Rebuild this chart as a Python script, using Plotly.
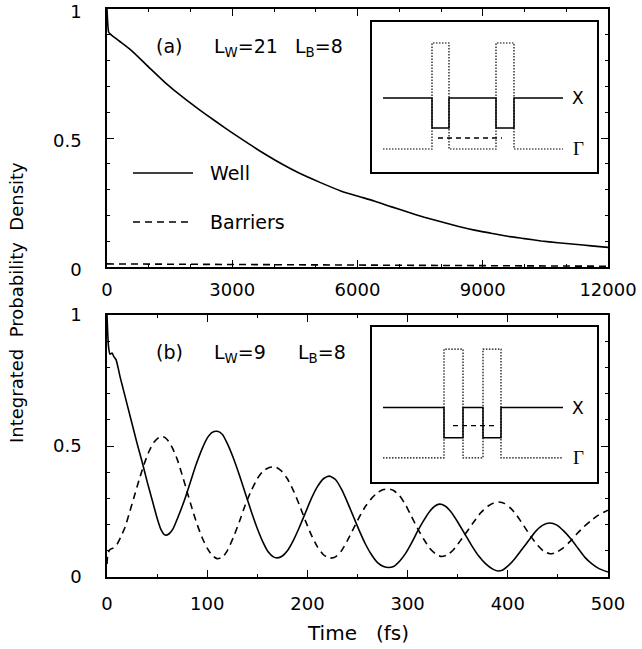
import plotly.graph_objects as go

W, H = 642, 649

# ---------------- data ----------------
# panel (a): Lw = 21, Lb = 8, time in fs
a_time = [0, 15, 40, 100, 300, 600, 1000, 1400, 1800, 2200, 2600, 3000, 3400, 3800, 4200, 4600, 5100, 5600,
          6000, 6400, 6800, 7200, 7600, 8000, 8400, 8800, 9200, 9600, 10000, 10400, 10800, 11200, 11600, 12000]
a_well = [1.0, 0.95, 0.91, 0.9, 0.875, 0.837, 0.775, 0.714, 0.66, 0.611, 0.565, 0.52, 0.477, 0.436, 0.398, 0.364,
          0.328, 0.295, 0.275, 0.256, 0.234, 0.213, 0.193, 0.175, 0.158, 0.143, 0.131, 0.119, 0.11, 0.101, 0.094,
          0.088, 0.082, 0.076]
a_barr_time = [0, 3000, 6000, 9000, 12000]
a_barr = [0.012, 0.010, 0.007, 0.005, 0.003]

# panel (b): Lw = 9, Lb = 8
b_well_time = [0, 1.5, 3, 5, 7, 9, 11, 13, 16, 20, 25, 30, 35, 40, 45, 50, 54, 58, 62, 66, 71, 77, 83, 89, 95, 100,
               105, 110, 115, 120, 126, 132, 138, 144, 150, 156, 161, 166, 170, 175, 180, 186, 192, 198, 204, 210,
               216, 222, 228, 234, 240, 246, 252, 258, 264, 270, 276, 281, 286, 292, 298, 304, 310, 316, 322, 327,
               332, 337, 343, 350, 357, 364, 371, 378, 385, 390, 395, 401, 407, 414, 421, 428, 435, 442, 449, 456,
               463, 470, 477, 484, 491, 500]
b_well = [1.0, 0.88, 0.85, 0.855, 0.84, 0.83, 0.80, 0.765, 0.72, 0.66, 0.585, 0.51, 0.44, 0.365, 0.295, 0.225, 0.18,
          0.16, 0.165, 0.185, 0.23, 0.29, 0.36, 0.43, 0.49, 0.53, 0.552, 0.556, 0.545, 0.51, 0.455, 0.39, 0.32, 0.25,
          0.185, 0.13, 0.095, 0.077, 0.073, 0.08, 0.1, 0.14, 0.19, 0.245, 0.3, 0.345, 0.375, 0.385, 0.372, 0.335,
          0.285, 0.23, 0.175, 0.125, 0.085, 0.055, 0.04, 0.036, 0.04, 0.06, 0.09, 0.13, 0.175, 0.215, 0.25, 0.27,
          0.278, 0.272, 0.25, 0.21, 0.165, 0.12, 0.08, 0.05, 0.03, 0.023, 0.027, 0.045, 0.07, 0.105, 0.14, 0.175,
          0.198, 0.206, 0.198, 0.175, 0.145, 0.11, 0.075, 0.05, 0.032, 0.019]
b_barr_time = [0, 1, 3, 6, 10, 14, 18, 22, 27, 32, 37, 42, 47, 52, 56, 60, 65, 70, 75, 80, 85, 90, 95, 100, 105, 110,
               115, 120, 126, 132, 138, 144, 150, 156, 162, 168, 174, 180, 186, 192, 198, 204, 210, 216, 222, 228,
               234, 240, 246, 252, 258, 264, 270, 276, 281, 286, 292, 298, 304, 310, 316, 322, 328, 334, 340, 346,
               352, 359, 366, 373, 380, 386, 391, 397, 403, 409, 416, 423, 430, 436, 442, 448, 455, 462, 469, 476,
               483, 490, 500]
b_barr = [0.05, 0.09, 0.105, 0.11, 0.125, 0.155, 0.19, 0.24, 0.305, 0.37, 0.43, 0.48, 0.515, 0.533, 0.535, 0.525,
          0.495, 0.45, 0.39, 0.325, 0.26, 0.2, 0.15, 0.11, 0.082, 0.07, 0.075, 0.1, 0.15, 0.21, 0.275, 0.33, 0.375,
          0.405, 0.418, 0.42, 0.405, 0.375, 0.33, 0.275, 0.215, 0.16, 0.115, 0.085, 0.072, 0.077, 0.1, 0.14, 0.185,
          0.23, 0.27, 0.3, 0.322, 0.334, 0.336, 0.33, 0.31, 0.275, 0.23, 0.185, 0.145, 0.11, 0.088, 0.078, 0.085,
          0.105, 0.135, 0.172, 0.21, 0.245, 0.27, 0.283, 0.286, 0.28, 0.262, 0.235, 0.195, 0.155, 0.12, 0.098, 0.089,
          0.093, 0.11, 0.135, 0.165, 0.192, 0.215, 0.235, 0.255]

# insets: band-edge schematics (arbitrary units)
ins_a_pos = [11, 60, 60, 77, 77, 124, 124, 142, 142, 191]
ins_a_X = [74, 74, 44, 44, 74, 74, 44, 44, 74, 74]
ins_a_G = [23, 23, 129, 129, 23, 23, 129, 129, 23, 23]
ins_a_lvl_pos = [66, 130]
ins_a_lvl = [34, 34]

ins_b_pos = [11, 72, 72, 91, 91, 111, 111, 129, 129, 191]
ins_b_X = [74, 74, 44, 44, 74, 74, 44, 44, 74, 74]
ins_b_G = [24, 24, 132, 132, 24, 24, 132, 132, 24, 24]
ins_b_lvl_pos = [81, 122]
ins_b_lvl = [56, 56]

a_xticks = [0, 3000, 6000, 9000, 12000]
a_xticktext = ["0", "3000", "6000", "9000", "12000"]
b_xticks = [0, 100, 200, 300, 400, 500]
b_xticktext = ["0", "100", "200", "300", "400", "500"]
y_ticks = [0, 0.5, 1]
y_ticktext = ["0", "0.5", "1"]

# ---------------- layout helpers ----------------
def px_x(x):
    return x / W

def px_y(y):
    return 1 - y / H

FONT = "DejaVu Sans"
BLACK = "black"

fig = go.Figure()

lw = 1.6
fig.add_trace(go.Scatter(x=a_time, y=a_well, mode="lines", line=dict(color=BLACK, width=lw, shape="spline", smoothing=0.5),
                         xaxis="x", yaxis="y", showlegend=False))
fig.add_trace(go.Scatter(x=a_barr_time, y=a_barr, mode="lines", line=dict(color=BLACK, width=lw, dash="7px,5px"),
                         xaxis="x", yaxis="y", showlegend=False))
fig.add_trace(go.Scatter(x=b_well_time, y=b_well, mode="lines", line=dict(color=BLACK, width=lw, shape="spline", smoothing=0.6),
                         xaxis="x2", yaxis="y2", showlegend=False))
fig.add_trace(go.Scatter(x=b_barr_time, y=b_barr, mode="lines", line=dict(color=BLACK, width=lw, shape="spline", smoothing=0.6, dash="7px,5px"),
                         xaxis="x2", yaxis="y2", showlegend=False))

# insets
for xa, ya, pos, X, G, lp, lv in [("x3", "y3", ins_a_pos, ins_a_X, ins_a_G, ins_a_lvl_pos, ins_a_lvl),
                                  ("x4", "y4", ins_b_pos, ins_b_X, ins_b_G, ins_b_lvl_pos, ins_b_lvl)]:
    fig.add_trace(go.Scatter(x=pos, y=G, mode="lines", line=dict(color=BLACK, width=1.2, dash="1.5px,1.5px"),
                             xaxis=xa, yaxis=ya, showlegend=False))
    fig.add_trace(go.Scatter(x=pos, y=X, mode="lines", line=dict(color=BLACK, width=1.5),
                             xaxis=xa, yaxis=ya, showlegend=False))
    fig.add_trace(go.Scatter(x=lp, y=lv, mode="lines", line=dict(color=BLACK, width=1.3, dash="5px,4px"),
                             xaxis=xa, yaxis=ya, showlegend=False))

xdom = [px_x(107), px_x(608)]
top_dom = [px_y(267), px_y(9)]
bot_dom = [px_y(577), px_y(315)]
ins_xdom = [px_x(372), px_x(597)]
ins_a_dom = [px_y(172), px_y(22)]
ins_b_dom = [px_y(482), px_y(327)]

tickfont = dict(family=FONT, size=18, color=BLACK)

def main_axis(**kw):
    d = dict(showline=True, linecolor=BLACK, linewidth=1.5, mirror="ticks", ticks="inside", ticklen=7,
             tickwidth=1.3, tickcolor=BLACK, showgrid=False, zeroline=False, tickfont=tickfont, automargin=False,
             ticklabeloverflow="allow")
    d.update(kw)
    return d

def inset_axis(**kw):
    d = dict(showline=True, linecolor=BLACK, linewidth=1.5, mirror=True, ticks="", showticklabels=False,
             showgrid=False, zeroline=False, fixedrange=True, automargin=False)
    d.update(kw)
    return d

minor_style = dict(ticks="inside", ticklen=3.5, tickcolor=BLACK, tickwidth=1.1)

fig.update_layout(
    width=W, height=H,
    margin=dict(l=0, r=0, t=0, b=0, pad=0, autoexpand=False),
    paper_bgcolor="white", plot_bgcolor="white",
    xaxis=main_axis(domain=xdom, anchor="y", range=[0, 12000], tickvals=a_xticks, ticktext=a_xticktext,
                    minor=dict(dtick=1000, **minor_style), ticklabelstandoff=6),
    yaxis=main_axis(domain=top_dom, anchor="x", range=[0, 1], tickvals=y_ticks, ticktext=y_ticktext,
                    minor=dict(dtick=0.1, **minor_style), ticklabelstandoff=20, ticklabelshift=3),
    xaxis2=main_axis(domain=xdom, anchor="y2", range=[0, 500], tickvals=b_xticks, ticktext=b_xticktext,
                     minor=dict(dtick=50, **minor_style), ticklabelstandoff=10),
    yaxis2=main_axis(domain=bot_dom, anchor="x2", range=[0, 1], tickvals=y_ticks, ticktext=y_ticktext,
                     minor=dict(dtick=0.1, **minor_style), ticklabelstandoff=20),
    xaxis3=inset_axis(domain=ins_xdom, anchor="y3", range=[0, 225]),
    yaxis3=inset_axis(domain=ins_a_dom, anchor="x3", range=[0, 150]),
    xaxis4=inset_axis(domain=ins_xdom, anchor="y4", range=[0, 225]),
    yaxis4=inset_axis(domain=ins_b_dom, anchor="x4", range=[0, 154]),
)

ann = []
lab = dict(family=FONT, size=19, color=BLACK)

def txt(x, y, s, font=lab, xanchor="left", xref="paper", yref="paper", **kw):
    ann.append(dict(x=x, y=y, xref=xref, yref=yref, text=s, showarrow=False, font=font,
                    xanchor=xanchor, yanchor="middle", **kw))

# panel labels
txt(px_x(154), px_y(46), "(a)")
txt(px_x(212), px_y(47), "L<sub>W</sub>=21")
txt(px_x(293), px_y(47), "L<sub>B</sub>=8")
txt(px_x(154), px_y(352), "(b)")
txt(px_x(212), px_y(353), "L<sub>W</sub>=9")
txt(px_x(296), px_y(353), "L<sub>B</sub>=8")

# legend (panel a)
legf = dict(family=FONT, size=19, color=BLACK)
txt(px_x(208), px_y(173), "Well", font=legf)
txt(px_x(208), px_y(222), "Barriers", font=legf)

# inset labels
xf = dict(family=FONT, size=17, color=BLACK)
gf = dict(family="Liberation Serif", size=19, color=BLACK)
for xr, yr in [("x3", "y3"), ("x4", "y4")]:
    txt(206, 74, "X", font=xf, xanchor="center", xref=xr, yref=yr)
    txt(206, 24, "Γ", font=gf, xanchor="center", xref=xr, yref=yr)

# axis titles
txt(px_x(358), px_y(633), "Time   (fs)", font=dict(family=FONT, size=20, color=BLACK), xanchor="center")
ann.append(dict(x=px_x(16), y=px_y(303), xref="paper", yref="paper", text="Integrated  Probability  Density",
                showarrow=False, textangle=-90, font=dict(family=FONT, size=18, color=BLACK),
                xanchor="center", yanchor="middle"))

fig.update_layout(annotations=ann)

# legend line samples
fig.add_shape(type="line", xref="paper", yref="paper", x0=px_x(133), x1=px_x(193), y0=px_y(173), y1=px_y(173),
              line=dict(color=BLACK, width=1.5))
fig.add_shape(type="line", xref="paper", yref="paper", x0=px_x(133), x1=px_x(192), y0=px_y(222), y1=px_y(222),
              line=dict(color=BLACK, width=1.5, dash="7px,5px"))

fig.write_html("out.html")
